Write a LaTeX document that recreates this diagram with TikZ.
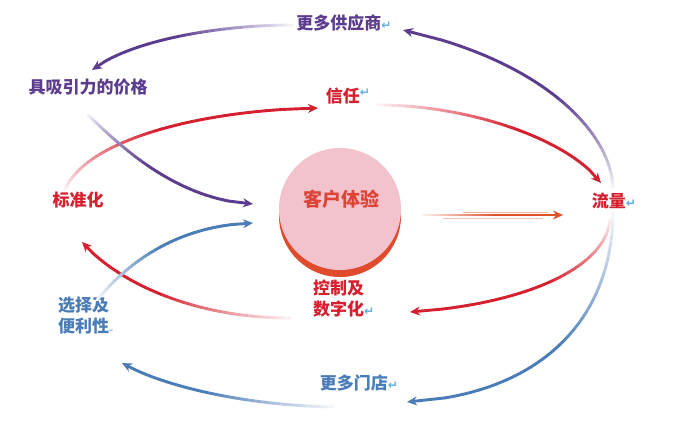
\documentclass[tikz,border=0pt]{standalone}
\usepackage{fontspec}
\setmainfont{Noto Sans CJK SC}
\newfontfamily\symfont{DejaVu Sans}
\usetikzlibrary{arrows.meta}
\definecolor{cpurple}{HTML}{5B3C8E}
\definecolor{cred}{HTML}{D7202F}
\definecolor{cblue}{HTML}{4A7CB8}
\definecolor{corange}{HTML}{E0502A}
\definecolor{crim}{HTML}{E04A2D}
\definecolor{cpink}{HTML}{F3C3CD}
\definecolor{ctext}{HTML}{DC4437}
\definecolor{cret}{HTML}{5FAEE3}
\newcommand{\retmark}[1][12]{{\symfont\fontsize{#1}{#1}\selectfont\textcolor{cret}{↵}}}
\newcommand{\garrow}[5]{%
  \foreach \k in {0,...,40}{\path (#1) .. controls (#2) and (#3) .. (#4) coordinate[pos=\k/40] (gp\k);}%
  \foreach \k in {0,...,35}{%
    \pgfmathtruncatemacro{\kn}{\k+1}%
    \pgfmathtruncatemacro{\pc}{min(100,8+\k*4.6)}%
    \draw[conn, draw=#5!\pc!white] (gp\k) -- (gp\kn);}%
  \draw[conn, draw=#5, -{Stealth[length=10pt,width=9pt]}] (gp36) -- (gp40);%
}
\tikzset{
  conn/.style={line width=2.9pt, line cap=round},
  lab/.style={inner sep=0pt, font=\bfseries\fontsize{17}{21}\selectfont},
}
\begin{document}
\begin{tikzpicture}[x=1pt,y=-1pt]
\useasboundingbox[fill=white] (0,0) rectangle (700,421);

% central circle
\fill[crim] (340,216) circle (61);
\fill[cpink] (340,209) circle (61);
\node[lab, text=ctext, font=\bfseries\fontsize{19}{21}\selectfont] (cx) at (341,199) {客户体验};

% labels
\node[lab, text=cpurple] (sup) at (344,23) {更多供应商\retmark};
\node[lab, text=cpurple] (price) at (88,87) {具吸引力的价格};
\node[lab, text=cred] (trust) at (348,96) {信任\raisebox{6pt}{\retmark}};
\node[lab, text=cred] (std) at (78,200) {标准化};
\node[lab, text=cred] (flow) at (614,201) {流量\retmark};
\node[lab, text=cred, align=left, anchor=north west] (ctrl) at (313,280) {控制及\\数字化\retmark};
\node[lab, text=cblue, align=left, anchor=north west] (conv) at (58,297) {选择及\\便利性\retmark[5]};
\node[lab, text=cblue] (stores) at (359,383) {更多门店\retmark};

% connector coordinates
\coordinate (a1s) at (292,25);  \coordinate (a1a) at (220,25);  \coordinate (a1b) at (130,40);  \coordinate (a1e) at (92,70);
\coordinate (a2s) at (613,187); \coordinate (a2a) at (610,130); \coordinate (a2b) at (540,60);  \coordinate (a2e) at (403,30);
\coordinate (a3s) at (88,115);  \coordinate (a3a) at (110,135); \coordinate (a3b) at (170,200); \coordinate (a3e) at (253,204);
\coordinate (a4s) at (65,190);  \coordinate (a4a) at (85,140);  \coordinate (a4b) at (200,110); \coordinate (a4e) at (318,108);
\coordinate (a5s) at (378,105); \coordinate (a5a) at (470,105); \coordinate (a5b) at (570,140); \coordinate (a5e) at (601,183);
\coordinate (a6s) at (610,220); \coordinate (a6a) at (605,270); \coordinate (a6b) at (520,305); \coordinate (a6e) at (410,312);
\coordinate (a7s) at (290,318); \coordinate (a7a) at (190,318); \coordinate (a7b) at (115,280); \coordinate (a7e) at (82,242);
\coordinate (a8s) at (97,300);  \coordinate (a8a) at (130,260); \coordinate (a8b) at (180,225); \coordinate (a8e) at (253,223);
\coordinate (a9s) at (613,213); \coordinate (a9a) at (612,320); \coordinate (a9b) at (540,395); \coordinate (a9e) at (407,402);
\coordinate (a10s) at (333,407); \coordinate (a10a) at (240,405); \coordinate (a10b) at (160,385); \coordinate (a10e) at (122,363);
\coordinate (hs) at (423,215); \coordinate (ha) at (470,215); \coordinate (hb) at (520,215); \coordinate (he) at (563,215);

% connectors
\garrow{a4s}{a4a}{a4b}{a4e}{cred}
\garrow{a3s}{a3a}{a3b}{a3e}{cpurple}
\garrow{a7s}{a7a}{a7b}{a7e}{cred}
\garrow{a8s}{a8a}{a8b}{a8e}{cblue}
\garrow{a1s}{a1a}{a1b}{a1e}{cpurple}
\garrow{a2s}{a2a}{a2b}{a2e}{cpurple}
\garrow{a5s}{a5a}{a5b}{a5e}{cred}
\garrow{a6s}{a6a}{a6b}{a6e}{cred}
\garrow{a9s}{a9a}{a9b}{a9e}{cblue}
\garrow{a10s}{a10a}{a10b}{a10e}{cblue}
\draw[line width=0.8pt, draw=corange!35!white] ([xshift=20pt,yshift=-3pt]hs) -- ([xshift=-20pt,yshift=-3pt]he);
\draw[line width=0.8pt, draw=corange!45!white] ([xshift=40pt,yshift=3pt]hs) -- ([xshift=-15pt,yshift=3pt]he);
\garrow{hs}{ha}{hb}{he}{corange}
\end{tikzpicture}
\end{document}
